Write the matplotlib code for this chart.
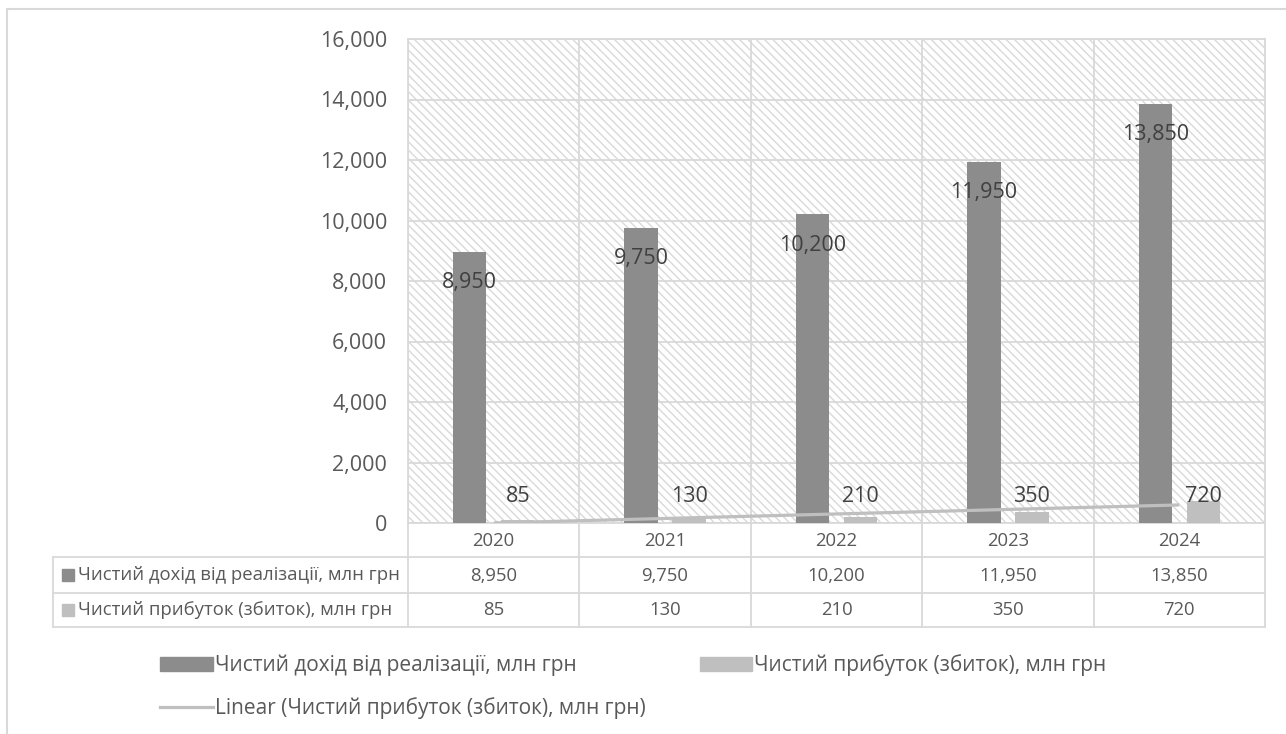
import matplotlib
matplotlib.use("Agg")
import matplotlib.pyplot as plt
import numpy as np
from matplotlib.lines import Line2D
from matplotlib.patches import Patch, Rectangle
from matplotlib.transforms import blended_transform_factory
from matplotlib.ticker import FuncFormatter

years = ["2020", "2021", "2022", "2023", "2024"]
revenue = [8950, 9750, 10200, 11950, 13850]
profit = [85, 130, 210, 350, 720]
revenue_name = "Чистий дохід від реалізації, млн грн"
profit_name = "Чистий прибуток (збиток), млн грн"
trend_name = "Linear (Чистий прибуток (збиток), млн грн)"

DARK = "#8c8c8c"
LIGHT = "#bfbfbf"
GRID = "#d9d9d9"
TXT = "#595959"
LBL = "#404040"
FONT = "Open Sans"

W, H = 1286, 734
fx = lambda px: px / W
fy = lambda py: 1 - py / H

plt.rcParams["font.family"] = [FONT, "DejaVu Sans"]
plt.rcParams["hatch.linewidth"] = 1.0

fig = plt.figure(figsize=(W / 100, H / 100), dpi=100)
ax = fig.add_axes([fx(408), fy(523), fx(1265) - fx(408), fy(39) - fy(523)])

# hatched plot-area background
ax.add_patch(Rectangle((0, 0), 1, 1, transform=ax.transAxes, facecolor="white",
                       edgecolor=GRID, hatch="\\\\\\\\", lw=0, zorder=0))

x = np.arange(len(years))
bw, off = 0.195, 0.14
ax.bar(x - off, revenue, bw, color=DARK, zorder=3)
ax.bar(x + off, profit, bw, color=LIGHT, zorder=3)

# linear trendline of profit
k, b = np.polyfit(x, profit, 1)
ax.plot(x, k * x + b, color=LIGHT, lw=2.3, zorder=4, solid_capstyle="butt")

for xi, v in zip(x, revenue):
    ax.annotate(f"{v:,}", (xi - off, v), xytext=(0, -22), textcoords="offset points",
                ha="center", va="center", fontsize=15.5, color=LBL, zorder=5)
for xi, v in zip(x, profit):
    ax.annotate(f"{v:,}", (xi + off, 0), xytext=(0, 19), textcoords="offset points",
                ha="center", va="center", fontsize=15.5, color=LBL, zorder=5)

ax.set_xlim(-0.5, len(years) - 0.5)
ax.set_ylim(0, 16000)
ax.set_yticks(np.arange(0, 16001, 2000))
ax.yaxis.set_major_formatter(FuncFormatter(lambda v, p: f"{int(v):,}"))
ax.tick_params(axis="y", length=0, pad=15, labelsize=15.5, labelcolor=TXT)
ax.set_xticks([])
ax.grid(axis="y", color=GRID, lw=1.3, zorder=1)
for i in range(len(years) + 1):
    ax.axvline(i - 0.5, color=GRID, lw=1.3, zorder=1)
for s in ax.spines.values():
    s.set_color(GRID)
    s.set_linewidth(1.3)

# data table under the axis
tr = blended_transform_factory(ax.transData, fig.transFigure)
rows_y = [523, 557, 593, 627]
for i in range(len(years) + 1):
    fig.add_artist(Line2D([i - 0.5, i - 0.5], [fy(523), fy(627)], transform=tr,
                          color=GRID, lw=1.3))
fig.add_artist(Line2D([fx(53), fx(53)], [fy(557), fy(627)], color=GRID, lw=1.3))
for py in rows_y[1:]:
    fig.add_artist(Line2D([fx(53), fx(1265)], [fy(py), fy(py)], color=GRID, lw=1.3))

TS = 13.3
for i, yr in enumerate(years):
    fig.text(i, fy(541), yr, transform=tr, ha="center", va="center", fontsize=TS, color=TXT)
    fig.text(i, fy(576), f"{revenue[i]:,}", transform=tr, ha="center", va="center",
             fontsize=TS, color=TXT)
    fig.text(i, fy(610), f"{profit[i]:,}", transform=tr, ha="center", va="center",
             fontsize=TS, color=TXT)

for py, name, c in [(575, revenue_name, DARK), (610, profit_name, LIGHT)]:
    fig.add_artist(Rectangle((fx(62), fy(py + 6)), fx(12), fy(0) - fy(12), color=c))
    fig.text(fx(78), fy(py), name, ha="left", va="center", fontsize=TS, color=TXT)

# legend
handles = [Patch(color=DARK, label=revenue_name),
           Line2D([], [], color=LIGHT, lw=2.3, label=trend_name),
           Patch(color=LIGHT, label=profit_name)]
fig.legend(handles=handles, ncol=2, loc="upper left", bbox_to_anchor=(fx(150), fy(644)),
           frameon=False, prop={"size": 15}, labelcolor=TXT, handlelength=2.5,
           handletextpad=0.1, columnspacing=2.6, labelspacing=1.0, borderpad=0)

# outer chart border (left and top visible)
fig.add_artist(Line2D([fx(7), fx(7), fx(1286)], [fy(734), fy(9), fy(9)], color=GRID, lw=1.5))

fig.savefig("out.png", dpi=100)
